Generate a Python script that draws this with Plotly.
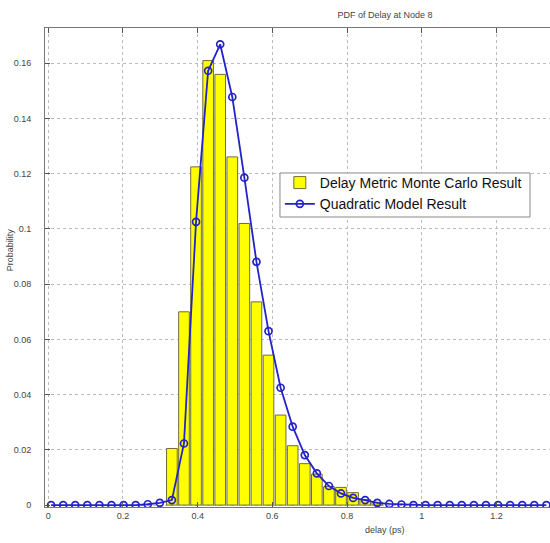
import plotly.graph_objects as go

# ---- data ----
delay_bins = [0.0075, 0.0399, 0.0722, 0.1046, 0.1369, 0.1693, 0.2016, 0.2340,
              0.2663, 0.2987, 0.3310, 0.3634, 0.3957, 0.4281, 0.4604, 0.4928,
              0.5251, 0.5575, 0.5898, 0.6222, 0.6545, 0.6869, 0.7192, 0.7516,
              0.7839, 0.8163, 0.8486, 0.8810, 0.9133, 0.9457, 0.9780, 1.0104,
              1.0427, 1.0751, 1.1074, 1.1398, 1.1721, 1.2045, 1.2368, 1.2692,
              1.3015, 1.3339]

quadratic_model = [0, 0, 0, 0, 0, 0, 0, 0,
                   0.0003, 0.0008, 0.0018, 0.0223, 0.1026, 0.1573, 0.1669, 0.1478,
                   0.1186, 0.0881, 0.0630, 0.0425, 0.0284, 0.0181, 0.0115, 0.0069,
                   0.0042, 0.0026, 0.0018, 0.0008, 0.0004, 0.0002, 0, 0,
                   0, 0, 0, 0, 0, 0, 0, 0,
                   0, 0]

mc_bins = [0.3310, 0.3634, 0.3957, 0.4281, 0.4604, 0.4928, 0.5251, 0.5575,
           0.5898, 0.6222, 0.6545, 0.6869, 0.7192, 0.7516, 0.7839, 0.8163,
           0.8486, 0.8810]
monte_carlo = [0.0205, 0.0700, 0.1225, 0.1610, 0.1560, 0.1261, 0.1020, 0.0736,
               0.0543, 0.0326, 0.0215, 0.0150, 0.0112, 0.0067, 0.0064, 0.0045,
               0.0020, 0.0010]

x_ticks = [0, 0.2, 0.4, 0.6, 0.8, 1, 1.2]
x_tick_labels = ["0", "0.2", "0.4", "0.6", "0.8", "1", "1.2"]
y_ticks = [0, 0.02, 0.04, 0.06, 0.08, 0.1, 0.12, 0.14, 0.16]
y_tick_labels = ["0", "0.02", "0.04", "0.06", "0.08", "0.1", "0.12", "0.14", "0.16"]

FONT = "Liberation Sans, Arial, sans-serif"

fig = go.Figure()
fig.add_trace(go.Bar(
    x=mc_bins, y=monte_carlo, name="Delay Metric Monte Carlo Result",
    marker=dict(color="#FFFF00", line=dict(color="#6E6E3C", width=1)),
    width=0.0285,
))
fig.add_trace(go.Scatter(
    x=delay_bins, y=quadratic_model, name="Quadratic Model Result",
    mode="lines+markers",
    line=dict(color="#2323C8", width=1.8),
    marker=dict(symbol="circle-open", size=7, color="#2323C8", line=dict(width=1.7)),
))

fig.update_layout(
    width=550, height=543,
    margin=dict(l=45, r=0, t=28, b=36),
    paper_bgcolor="white", plot_bgcolor="white",
    font=dict(family=FONT, size=9, color="#444444"),
    showlegend=True,
    legend=dict(
        x=0.465, y=0.7098, xanchor="left", yanchor="top",
        bgcolor="rgba(0,0,0,0)", borderwidth=0,
        font=dict(family=FONT, size=14, color="#111111"),
        tracegroupgap=0, itemwidth=30,
    ),
    title=dict(text="PDF of Delay at Node 8", x=0.70, xref="container",
               y=1 - 15 / 543, yref="container", xanchor="center", yanchor="middle",
               font=dict(family=FONT, size=9, color="#444444")),
    xaxis=dict(
        range=[-0.0088, 1.3436],
        tickvals=x_ticks, ticktext=x_tick_labels,
        ticks="inside", ticklen=5, tickcolor="#555555",
        showline=True, linecolor="#777777", linewidth=1, mirror="ticks",
        showgrid=True, gridcolor="#BBBBBB", griddash="dot", gridwidth=1,
        zeroline=False,
    ),
    yaxis=dict(
        range=[-0.0007, 0.1728],
        tickvals=y_ticks, ticktext=y_tick_labels,
        ticks="inside", ticklen=5, tickcolor="#555555",
        showline=True, linecolor="#777777", linewidth=1, mirror=False,
        showgrid=True, gridcolor="#BBBBBB", griddash="dot", gridwidth=1,
        zeroline=False, ticklabelstandoff=11,
    ),
    shapes=[
        dict(type="rect", xref="paper", yref="paper",
             x0=0.4653, x1=0.9604, y0=0.6054, y1=0.6973,
             fillcolor="white", line=dict(color="#888888", width=1), layer="above"),
    ],
    annotations=[
        dict(text="delay (ps)", xref="paper", yref="paper", x=0.673, y=-0.048,
             showarrow=False, xanchor="center", yanchor="middle",
             font=dict(family=FONT, size=9, color="#444444")),
        dict(text="Probability", xref="paper", yref="paper", x=-0.069, y=0.5365,
             showarrow=False, xanchor="center", yanchor="middle", textangle=-90,
             font=dict(family=FONT, size=9, color="#444444")),
    ],
)

fig.write_html("out.html", config={"displayModeBar": False},
               post_script="document.body.style.margin='0px';document.body.style.overflow='hidden';")
